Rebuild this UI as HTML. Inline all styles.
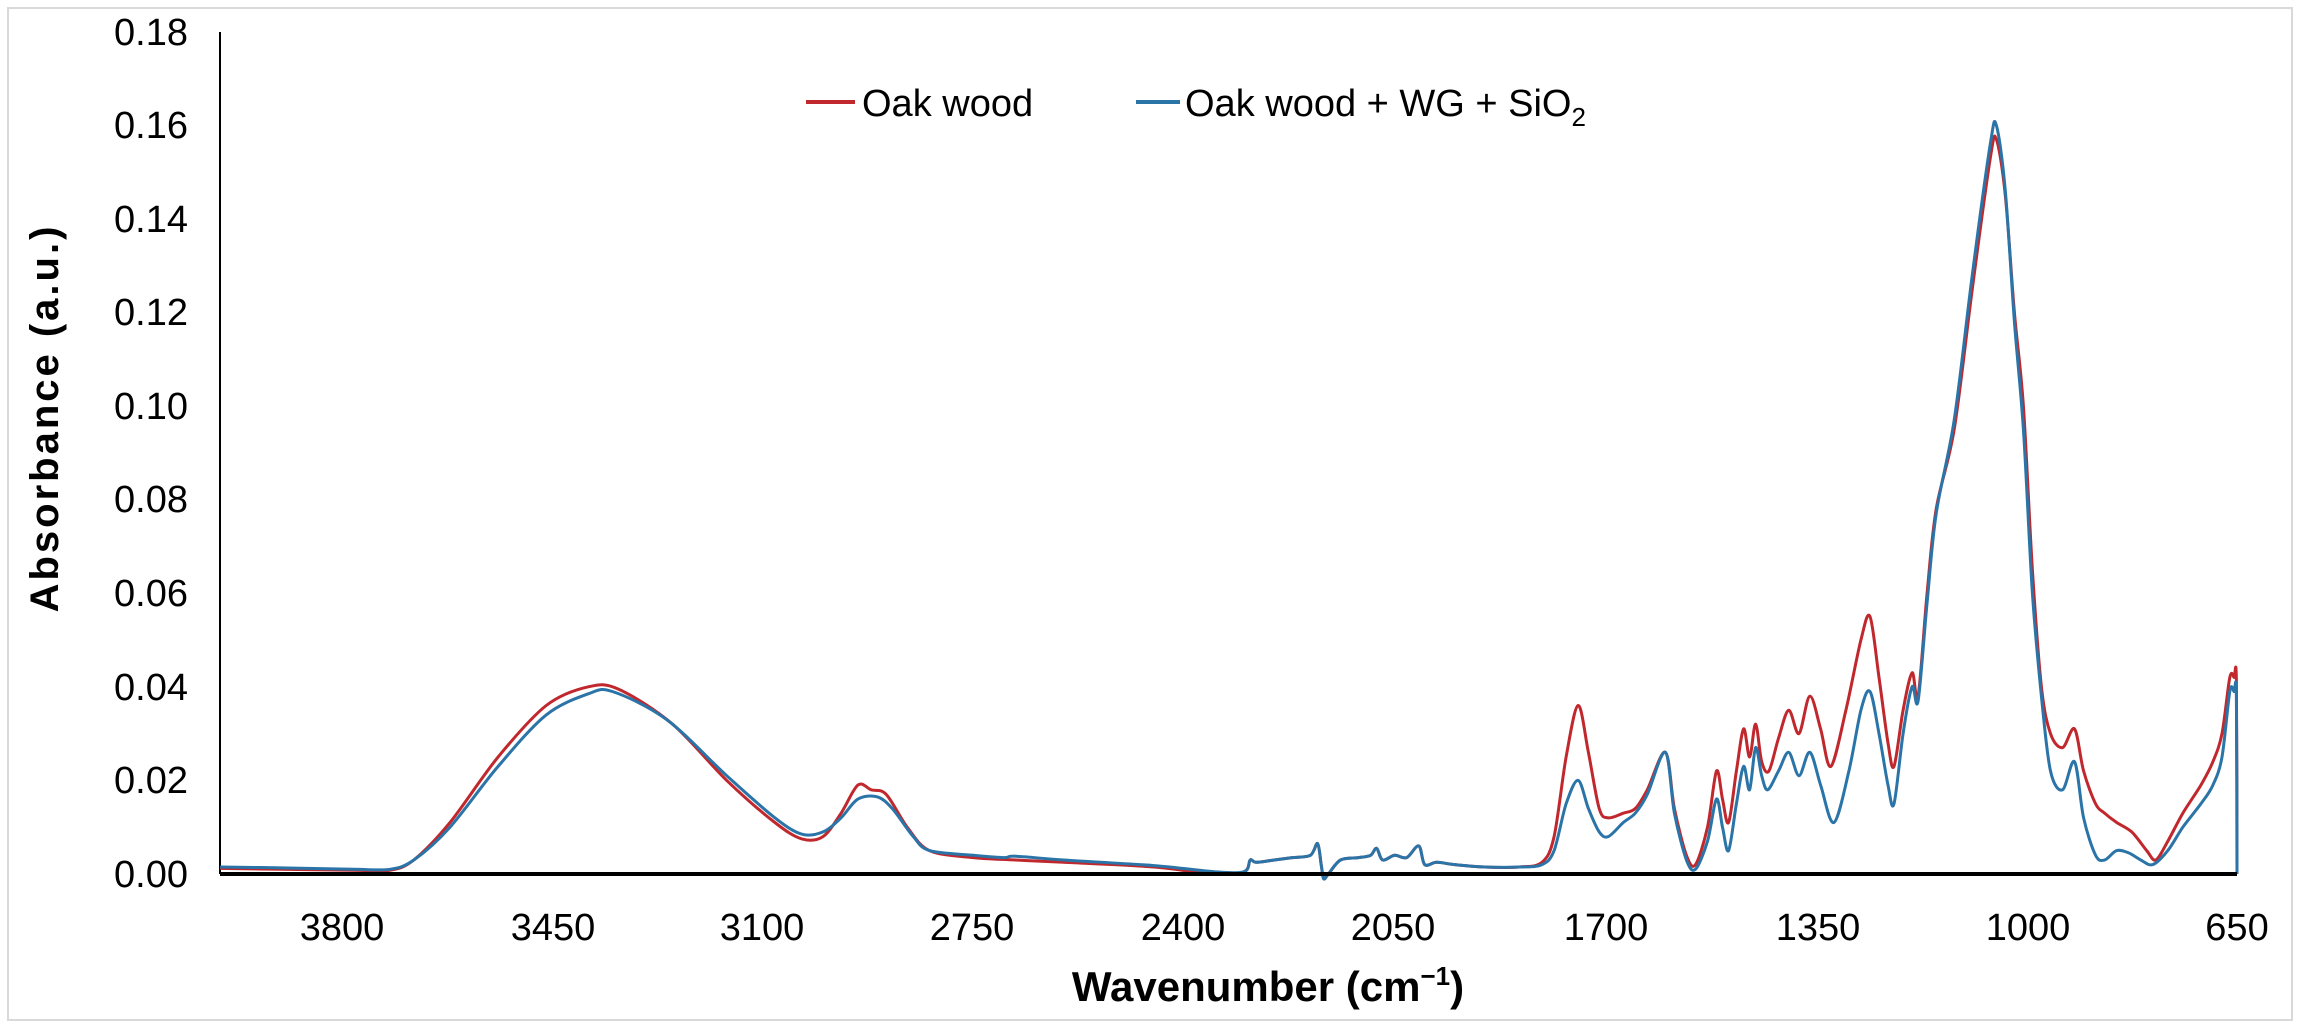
<!DOCTYPE html>
<html><head><meta charset="utf-8"><style>
html,body{margin:0;padding:0;background:#fff}
svg{display:block}
text{font-family:"Liberation Sans",Arial,sans-serif}
</style></head><body>
<svg id="s" width="2300" height="1028" xmlns="http://www.w3.org/2000/svg">
<rect x="8" y="8" width="2284" height="1012" fill="#fff" stroke="#d9d9d9" stroke-width="2"/>
<line x1="220" y1="32" x2="220" y2="874" stroke="#000" stroke-width="2"/>
<g font-size="38" fill="#000" text-anchor="end">
<text x="188" y="887">0.00</text><text x="188" y="793">0.02</text><text x="188" y="700">0.04</text>
<text x="188" y="606">0.06</text><text x="188" y="512">0.08</text><text x="188" y="419">0.10</text>
<text x="188" y="325">0.12</text><text x="188" y="232">0.14</text><text x="188" y="138">0.16</text>
<text x="188" y="45">0.18</text></g>
<g font-size="38" fill="#000" text-anchor="middle">
<text x="342" y="940">3800</text><text x="553" y="940">3450</text><text x="762" y="940">3100</text>
<text x="972" y="940">2750</text><text x="1183" y="940">2400</text><text x="1393" y="940">2050</text>
<text x="1606" y="940">1700</text><text x="1818" y="940">1350</text><text x="2028" y="940">1000</text>
<text x="2237" y="940">650</text></g>
<text x="1268" y="1001" font-size="42" font-weight="bold" text-anchor="middle">Wavenumber (cm<tspan font-size="26" dy="-16">−1</tspan><tspan dy="16">)</tspan></text>
<text transform="translate(58,418) rotate(-90)" font-size="40" font-weight="bold" letter-spacing="3" text-anchor="middle">Absorbance (a.u.)</text>
<line x1="806" y1="102" x2="855" y2="102" stroke="#c0282d" stroke-width="4"/>
<text x="862" y="116" font-size="38">Oak wood</text>
<line x1="1136" y1="102" x2="1180" y2="102" stroke="#2a74a8" stroke-width="4"/>
<text x="1185" y="116" font-size="38">Oak wood + WG + SiO<tspan font-size="26" dy="10">2</tspan></text>
<path id="red" fill="none" stroke="#c0282d" stroke-width="3"/>
<path id="blue" fill="none" stroke="#2a74a8" stroke-width="3"/>
<line x1="220" y1="874" x2="2237" y2="874" stroke="#000" stroke-width="4"/>
</svg>
<script>
function X(w){return 2237-(w-650)*0.6017}
function Y(v){return 874-v*4680}
var noise=[[2300,0.0005],[2290,0.003],[2280,0.0025],[2250,0.003],[2220,0.0035],[2190,0.004],[2178,0.0065],[2172,0.002],[2168,-0.001],[2160,0.0],[2140,0.003],[2110,0.0035],[2090,0.004],[2080,0.0055],[2070,0.003],[2050,0.004],[2030,0.0035],[2010,0.006],[2000,0.002],[1980,0.0025],[1950,0.002],[1900,0.0015]];
var red=[[4002,0.0012],[3900,0.001],[3780,0.0008],[3720,0.0008],[3680,0.003],[3620,0.011],[3540,0.025],[3460,0.036],[3390,0.040],[3340,0.0395],[3250,0.032],[3160,0.020],[3080,0.011],[3035,0.0075],[3000,0.008],[2970,0.013],[2942,0.019],[2920,0.018],[2895,0.017],[2860,0.010],[2823,0.005],[2750,0.0035],[2680,0.003],[2600,0.0025],[2450,0.0015],[2350,0.0]].concat(noise).concat([[1843,0.0015],[1805,0.0025],[1785,0.008],[1765,0.025],[1745,0.036],[1728,0.026],[1710,0.014],[1695,0.012],[1670,0.013],[1650,0.014],[1630,0.018],[1600,0.026],[1585,0.014],[1565,0.004],[1550,0.002],[1530,0.010],[1515,0.022],[1505,0.016],[1495,0.011],[1482,0.022],[1470,0.031],[1460,0.025],[1450,0.032],[1440,0.024],[1428,0.022],[1412,0.029],[1395,0.035],[1378,0.030],[1360,0.038],[1342,0.031],[1325,0.023],[1300,0.035],[1275,0.050],[1260,0.055],[1245,0.042],[1230,0.028],[1220,0.023],[1205,0.035],[1190,0.043],[1180,0.038],[1165,0.060],[1150,0.078],[1120,0.095],[1090,0.125],[1060,0.153],[1050,0.157],[1035,0.145],[1020,0.120],[1005,0.100],[990,0.065],[975,0.040],[960,0.030],[940,0.027],[920,0.031],[905,0.022],[885,0.015],[870,0.013],[850,0.011],[825,0.009],[800,0.005],[785,0.003],[765,0.007],[740,0.013],[710,0.019],[690,0.024],[675,0.030],[662,0.042],[655,0.042],[651,0.041],[650,0.0]]);
var blue=[[4002,0.0015],[3900,0.0013],[3780,0.001],[3720,0.001],[3680,0.003],[3620,0.010],[3540,0.023],[3460,0.034],[3390,0.0385],[3350,0.039],[3260,0.033],[3160,0.021],[3080,0.012],[3035,0.0085],[3000,0.009],[2970,0.012],[2942,0.016],[2910,0.0165],[2885,0.014],[2850,0.008],[2823,0.005],[2750,0.004],[2700,0.0035],[2680,0.0038],[2600,0.003],[2450,0.0018],[2350,0.0005]].concat(noise).concat([[1843,0.0015],[1805,0.002],[1785,0.005],[1765,0.015],[1745,0.020],[1728,0.014],[1710,0.009],[1695,0.008],[1670,0.011],[1650,0.013],[1630,0.017],[1600,0.026],[1585,0.013],[1565,0.003],[1550,0.001],[1530,0.007],[1515,0.016],[1505,0.010],[1495,0.005],[1482,0.015],[1470,0.023],[1460,0.018],[1450,0.027],[1440,0.021],[1430,0.018],[1412,0.022],[1395,0.026],[1378,0.021],[1360,0.026],[1342,0.019],[1320,0.011],[1295,0.022],[1275,0.035],[1260,0.039],[1245,0.030],[1230,0.019],[1220,0.015],[1205,0.030],[1190,0.040],[1180,0.037],[1165,0.058],[1150,0.077],[1120,0.097],[1090,0.128],[1060,0.156],[1050,0.160],[1035,0.146],[1020,0.118],[1005,0.095],[990,0.060],[975,0.038],[960,0.022],[940,0.018],[920,0.024],[905,0.012],[885,0.004],[870,0.003],[850,0.005],[830,0.0045],[810,0.003],[790,0.002],[765,0.005],[740,0.010],[710,0.015],[690,0.019],[675,0.025],[662,0.039],[655,0.039],[651,0.038],[650,0.0]]);
function path(pts){
 var p=pts.map(function(a){return [X(a[0]),Y(a[1])]});
 var d="M"+p[0][0].toFixed(1)+","+p[0][1].toFixed(1);
 for(var i=0;i<p.length-1;i++){
  var p0=p[Math.max(0,i-1)],p1=p[i],p2=p[i+1],p3=p[Math.min(p.length-1,i+2)];
  var t=0.16;
  var c1=[p1[0]+(p2[0]-p0[0])*t,p1[1]+(p2[1]-p0[1])*t];
  var c2=[p2[0]-(p3[0]-p1[0])*t,p2[1]-(p3[1]-p1[1])*t];
  d+=" C"+c1[0].toFixed(1)+","+c1[1].toFixed(1)+" "+c2[0].toFixed(1)+","+c2[1].toFixed(1)+" "+p2[0].toFixed(1)+","+p2[1].toFixed(1);
 }
 return d;
}
document.getElementById("red").setAttribute("d",path(red));
document.getElementById("blue").setAttribute("d",path(blue));
</script>
</body></html>
